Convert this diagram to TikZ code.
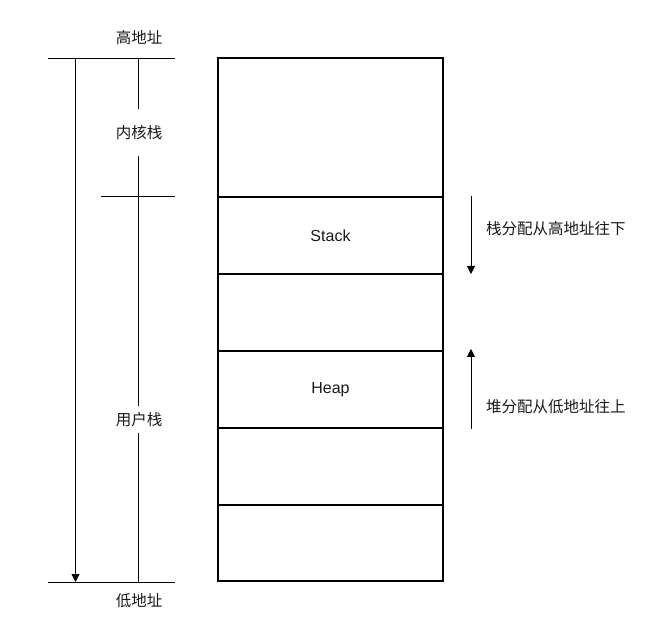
\documentclass[tikz,border=0pt]{standalone}
\usepackage{fontspec}
\setmainfont{Liberation Sans}
\newfontfamily\cjk{Noto Sans CJK SC}
\usetikzlibrary{arrows.meta}
\begin{document}
\begin{tikzpicture}[x=1pt,y=1pt,
  cjklabel/.style={font=\cjk\fontsize{15.5}{18}\selectfont, inner sep=0pt, text=black!90},
  celltext/.style={font=\fontsize{16}{18}\selectfont, text=black!90},
  cell/.style={draw, line width=1.1pt, minimum width=225pt, anchor=north, inner sep=0pt, outer sep=0pt},
  thinline/.style={line width=0.9pt},
  arr/.style={line width=0.9pt, -{Triangle[width=8pt,length=8pt]}}
]
\useasboundingbox (0,0) rectangle (649,-639);
% memory cells
\node[cell, minimum height=139pt] (c0) at (330.5,-58) {};
\node[cell, minimum height=77pt] (c1) at (c0.south) {};
\node[cell, minimum height=77pt] (c2) at (c1.south) {};
\node[cell, minimum height=77pt] (c3) at (c2.south) {};
\node[cell, minimum height=77pt] (c4) at (c3.south) {};
\node[cell, minimum height=76pt] (c5) at (c4.south) {};
\node[celltext] (stk) at (c1.center) {Stack};
\node[celltext] (hp) at (c3.center) {Heap};
% left scale
\node[cjklabel] (hi) at (139,-38) {高地址};
\node[cjklabel] (lo) at (139,-601) {低地址};
\coordinate (tl) at (48,-58);
\coordinate (tr) at (175,-58);
\coordinate (bl) at (48,-582);
\coordinate (br) at (175,-582);
\coordinate (ml) at (101,-196);
\coordinate (mr) at (175,-196);
\draw[thinline] (tl) -- (tr);
\draw[thinline] (bl) -- (br);
\draw[thinline] (ml) -- (mr);
\coordinate (at) at (75.5,-58);
\coordinate (ab) at (75.5,-582);
\draw[arr] (at) -- (ab);
\coordinate (vt) at (138,-58);
\coordinate (vb) at (138,-582);
\node[cjklabel, minimum height=46pt] (kern) at (139,-132.5) {内核栈};
\node[cjklabel, minimum height=27pt] (user) at (139,-419.5) {用户栈};
\draw[thinline] (vt) -- (vt |- kern.north);
\draw[thinline] (vt |- kern.south) -- (vt |- user.north);
\draw[thinline] (vt |- user.south) -- (vb);
% right arrows
\coordinate (d1) at (471,-196);
\coordinate (d2) at (471,-274);
\draw[arr] (d1) -- (d2);
\coordinate (u1) at (471,-429);
\coordinate (u2) at (471,-349);
\draw[arr] (u1) -- (u2);
\node[cjklabel, anchor=west] (sdesc) at (486,-228.5) {栈分配从高地址往下};
\node[cjklabel, anchor=west] (hdesc) at (486,-406.5) {堆分配从低地址往上};
\end{tikzpicture}
\end{document}
